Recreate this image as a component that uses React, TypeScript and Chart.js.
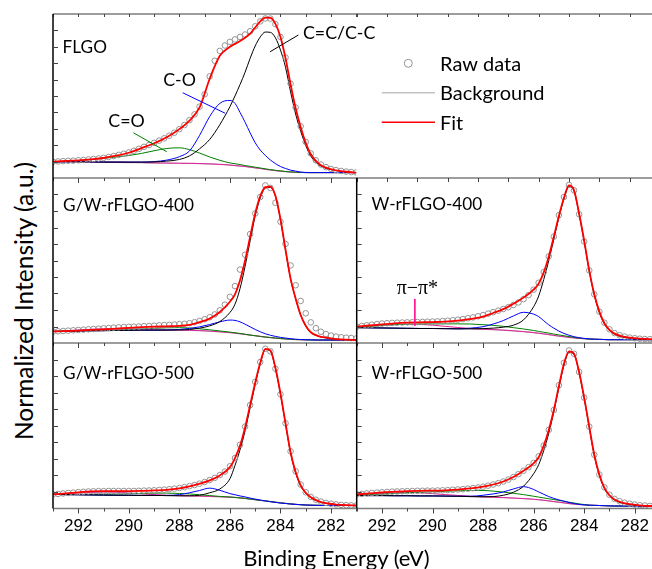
import React, { useEffect, useRef } from 'react';
import { Chart, registerables } from 'chart.js';

Chart.register(...registerables);

// ---------------- data ----------------
const energyRaw = [293.0, 292.8, 292.6, 292.4, 292.2, 292.0, 291.8, 291.6, 291.4, 291.2, 291.0, 290.8, 290.6, 290.4, 290.2, 290.0, 289.8, 289.6, 289.4, 289.2, 289.0, 288.8, 288.6, 288.4, 288.2, 288.0, 287.8, 287.6, 287.4, 287.2, 287.0, 286.8, 286.6, 286.4, 286.2, 286.0, 285.8, 285.6, 285.4, 285.2, 285.0, 284.8, 284.6, 284.4, 284.2, 284.0, 283.8, 283.6, 283.4, 283.2, 283.0, 282.8, 282.6, 282.4, 282.2, 282.0, 281.8, 281.6, 281.4, 281.2, 281.0];
const energyFit = [293, 292.5, 292, 291.5, 291, 290.5, 290, 289.5, 289, 288.5, 288, 287.6, 287.2, 286.8, 286.4, 286, 285.8, 285.6, 285.4, 285.2, 285, 284.8, 284.6, 284.4, 284.2, 284, 283.8, 283.6, 283.4, 283.2, 283, 282.8, 282.5, 282.2, 281.8, 281.4, 281];

// FLGO
const flgoRaw = [9.9, 10.1, 10.3, 10.5, 10.6, 10.8, 11.0, 11.3, 11.6, 11.9, 12.3, 12.8, 13.4, 14.1, 14.8, 15.6, 16.6, 17.8, 19.0, 20.1, 21.4, 22.8, 24.2, 25.8, 27.6, 29.8, 32.3, 35.3, 38.8, 43.5, 51.0, 62.0, 71.5, 77.5, 80.8, 83.0, 84.5, 86.0, 87.5, 89.5, 92.5, 95.5, 97.3, 97.2, 93.8, 86.0, 73.5, 57.5, 43.0, 31.5, 22.0, 15.0, 10.8, 8.2, 6.6, 5.5, 4.8, 4.3, 3.9, 3.6, 3.4];
const flgoFit = [9.9, 10.4, 10.8, 11.4, 12.2, 13.6, 15.4, 18.2, 21.2, 24.9, 29.8, 35.0, 43.0, 60.5, 74.5, 80.0, 81.8, 83.5, 85.5, 88.0, 91.8, 95.5, 97.8, 97.6, 94.0, 86.0, 73.0, 57.0, 42.5, 31.0, 21.5, 14.5, 8.9, 6.3, 4.7, 3.8, 3.3];
const flgoBg = [9.9, 9.85, 9.8, 9.7, 9.6, 9.5, 9.4, 9.3, 9.2, 9.1, 9.0, 8.9, 8.8, 8.6, 8.3, 7.9, 7.6, 7.3, 7.0, 6.6, 6.2, 5.8, 5.3, 4.9, 4.5, 4.2, 3.9, 3.7, 3.5, 3.4, 3.3, 3.3, 3.3, 3.3, 3.3, 3.3, 3.3];
const flgoCC = [9.9, 9.9, 9.8, 9.8, 9.7, 9.7, 9.7, 9.7, 9.8, 10.3, 11.3, 13.5, 17.8, 23.5, 32.5, 43.5, 50.0, 57.0, 64.5, 73.0, 80.5, 86.0, 89.0, 88.8, 85.5, 78.0, 67.5, 52.5, 39.0, 28.5, 19.8, 13.3, 8.3, 5.9, 4.5, 3.7, 3.3];
const flgoCO = [9.9, 9.9, 9.9, 9.8, 9.7, 9.7, 9.7, 9.7, 10.0, 10.9, 13.0, 16.5, 26.0, 37.5, 45.5, 47.3, 45.5, 40.0, 34.0, 27.5, 21.5, 17.0, 13.8, 11.0, 8.8, 7.0, 5.8, 4.8, 4.2, 3.6, 3.4, 3.3, 3.3, 3.3, 3.3, 3.3, 3.3];
const flgoCdO = [9.9, 10.2, 10.6, 11.2, 12.0, 12.8, 13.7, 15.0, 16.6, 18.0, 18.4, 17.3, 15.2, 12.8, 10.8, 9.2, 8.7, 8.2, 7.6, 7.1, 6.6, 6.1, 5.6, 5.1, 4.7, 4.3, 4.0, 3.7, 3.5, 3.4, 3.3, 3.3, 3.3, 3.3, 3.3, 3.3, 3.3];
const flgoPi = [9.9, 9.9, 9.9, 9.8, 9.7, 9.6, 9.5, 9.4, 9.2, 9.1, 9.0, 8.9, 8.8, 8.6, 8.3, 7.9, 7.6, 7.3, 7.0, 6.6, 6.2, 5.8, 5.3, 4.9, 4.5, 4.2, 3.9, 3.7, 3.5, 3.4, 3.3, 3.3, 3.3, 3.3, 3.3, 3.3, 3.3];

// G/W-rFLGO-400
const gw400Raw = [6.9, 7.1, 7.3, 7.5, 7.7, 7.9, 8.1, 8.3, 8.5, 8.7, 8.9, 9.1, 9.3, 9.5, 9.7, 9.8, 9.9, 10.0, 10.2, 10.3, 10.5, 10.7, 10.9, 11.0, 11.2, 11.4, 11.6, 12.0, 12.6, 13.4, 14.4, 15.6, 17.3, 19.8, 23.2, 28.0, 34.5, 44.5, 53.5, 66.0, 78.5, 88.5, 95.5, 94.0, 85.0, 73.5, 60.0, 47.0, 35.0, 25.5, 18.0, 12.5, 9.0, 6.8, 5.4, 4.5, 3.9, 3.5, 3.2, 3.0, 2.8];
const gw400Fit = [7.0, 7.2, 7.5, 7.9, 8.3, 8.7, 9.2, 9.6, 9.9, 10.1, 10.4, 11.0, 12.6, 14.8, 18.8, 25.0, 29.5, 38.0, 50.0, 64.4, 78.5, 89.0, 94.5, 94.8, 89.2, 75.0, 56.5, 39.0, 27.0, 17.0, 10.5, 6.5, 4.2, 3.2, 2.4, 2.0, 1.8];
const gw400Bg = [7.0, 7.1, 7.3, 7.4, 7.5, 7.6, 7.7, 7.8, 7.8, 7.8, 7.8, 7.7, 7.5, 7.2, 6.8, 6.3, 6.0, 5.6, 5.2, 4.8, 4.4, 4.0, 3.6, 3.3, 3.0, 2.7, 2.5, 2.3, 2.1, 2.0, 1.9, 1.9, 1.8, 1.8, 1.8, 1.8, 1.8];
const gw400CC = [7.0, 7.1, 7.3, 7.4, 7.5, 7.6, 7.7, 7.8, 7.8, 7.8, 7.9, 8.2, 9.0, 10.4, 13.0, 18.5, 23.5, 33.0, 46.5, 62.0, 77.0, 88.0, 93.8, 94.3, 89.0, 74.8, 56.3, 38.8, 26.8, 16.8, 10.3, 6.4, 4.1, 3.1, 2.3, 1.9, 1.8];
const gw400CO = [7.0, 7.1, 7.3, 7.4, 7.5, 7.6, 7.7, 7.8, 7.8, 7.9, 8.2, 8.8, 9.8, 11.2, 12.8, 13.9, 13.7, 12.8, 11.4, 9.8, 8.2, 6.8, 5.6, 4.7, 4.0, 3.4, 3.0, 2.6, 2.3, 2.1, 2.0, 1.9, 1.8, 1.8, 1.8, 1.8, 1.8];
const gw400CdO = [7.0, 7.1, 7.3, 7.5, 7.7, 7.9, 8.2, 8.5, 8.9, 9.2, 9.3, 9.1, 8.6, 8.0, 7.3, 6.6, 6.2, 5.8, 5.3, 4.8, 4.4, 4.0, 3.6, 3.3, 3.0, 2.7, 2.5, 2.3, 2.1, 2.0, 1.9, 1.9, 1.8, 1.8, 1.8, 1.8, 1.8];
const gw400Pi = [7.0, 7.4, 7.9, 8.3, 8.6, 8.7, 8.6, 8.3, 8.0, 7.9, 7.8, 7.7, 7.5, 7.2, 6.8, 6.3, 6.0, 5.6, 5.2, 4.8, 4.4, 4.0, 3.6, 3.3, 3.0, 2.7, 2.5, 2.3, 2.1, 2.0, 1.9, 1.9, 1.8, 1.8, 1.8, 1.8, 1.8];

// W-rFLGO-400
const w400Raw = [9.9, 10.3, 10.7, 11.1, 11.5, 11.8, 12.0, 12.2, 12.3, 12.4, 12.5, 12.6, 12.7, 12.8, 12.9, 13.0, 13.1, 13.3, 13.5, 13.8, 14.1, 14.5, 15.0, 15.5, 16.2, 16.9, 17.8, 18.7, 19.6, 20.6, 21.7, 23.0, 24.6, 26.6, 29.0, 32.3, 36.5, 43.0, 52.5, 64.5, 77.5, 88.5, 95.8, 92.5, 78.0, 61.5, 44.0, 29.5, 19.0, 12.3, 8.3, 6.0, 4.7, 3.9, 3.3, 2.9, 2.6, 2.4, 2.3, 2.2, 2.2];
const w400Fit = [9.9, 10.6, 11.3, 11.9, 12.3, 12.5, 12.7, 13.0, 13.6, 14.6, 16.0, 18.2, 20.5, 23.8, 27.5, 32.3, 36.0, 42.8, 52.5, 64.5, 77.0, 88.0, 95.5, 92.5, 78.5, 62.0, 44.0, 29.5, 19.0, 12.0, 8.0, 5.7, 4.0, 3.2, 2.6, 2.3, 2.2];
const w400Bg = [9.3, 9.2, 9.1, 9.0, 8.9, 8.8, 8.8, 8.7, 8.6, 8.5, 8.3, 8.1, 7.8, 7.4, 6.9, 6.3, 5.9, 5.5, 5.1, 4.6, 4.2, 3.8, 3.4, 3.1, 2.8, 2.6, 2.4, 2.3, 2.2, 2.1, 2.0, 2.0, 2.0, 2.0, 2.0, 2.0, 2.0];
const w400CC = [9.3, 9.2, 9.1, 9.0, 8.9, 8.8, 8.8, 8.7, 8.6, 8.6, 8.7, 9.0, 9.6, 10.8, 14.0, 22.0, 28.5, 38.5, 50.0, 63.0, 76.0, 87.3, 94.8, 92.0, 78.0, 61.5, 43.6, 29.0, 18.5, 11.6, 7.6, 5.3, 3.7, 2.9, 2.4, 2.1, 2.0];
const w400CO = [9.3, 9.2, 9.1, 9.0, 8.9, 8.8, 8.8, 8.7, 8.6, 9.0, 9.9, 11.5, 13.6, 16.4, 18.6, 17.5, 16.0, 13.5, 11.0, 9.0, 7.2, 5.8, 4.7, 3.8, 3.2, 2.8, 2.5, 2.3, 2.2, 2.1, 2.0, 2.0, 2.0, 2.0, 2.0, 2.0, 2.0];
const w400CdO = [9.4, 10.0, 10.6, 11.1, 11.4, 11.5, 11.6, 11.6, 11.6, 11.5, 11.1, 10.7, 10.1, 9.3, 8.5, 7.6, 7.0, 6.5, 6.0, 5.4, 4.9, 4.4, 3.9, 3.4, 3.0, 2.7, 2.4, 2.3, 2.2, 2.1, 2.0, 2.0, 2.0, 2.0, 2.0, 2.0, 2.0];
const w400Pi = [9.4, 10.1, 10.8, 11.2, 11.4, 11.3, 10.8, 10.1, 9.4, 8.8, 8.4, 8.1, 7.8, 7.4, 6.9, 6.3, 5.9, 5.5, 5.1, 4.6, 4.2, 3.8, 3.4, 3.1, 2.8, 2.6, 2.4, 2.3, 2.2, 2.1, 2.0, 2.0, 2.0, 2.0, 2.0, 2.0, 2.0];

// G/W-rFLGO-500
const gw500Raw = [8.5, 8.8, 9.1, 9.4, 9.6, 9.9, 10.1, 10.3, 10.4, 10.5, 10.5, 10.6, 10.6, 10.6, 10.6, 10.6, 10.6, 10.7, 10.8, 10.9, 11.0, 11.2, 11.4, 11.7, 12.0, 12.4, 12.9, 13.5, 14.2, 15.0, 16.0, 17.2, 18.5, 20.2, 22.3, 25.5, 30.5, 38.5, 49.5, 62.5, 76.5, 88.5, 96.5, 95.0, 84.5, 69.0, 51.5, 34.5, 22.5, 14.5, 9.8, 7.0, 5.3, 4.2, 3.4, 2.9, 2.5, 2.2, 2.0, 1.9, 1.8];
const gw500Fit = [8.5, 9.2, 9.8, 10.3, 10.5, 10.5, 10.5, 10.6, 10.9, 11.3, 12.2, 13.4, 15.0, 17.0, 20.0, 25.0, 30.5, 38.0, 49.0, 62.5, 76.0, 88.0, 96.5, 95.5, 85.0, 69.5, 51.5, 34.0, 22.0, 14.0, 9.5, 6.8, 4.5, 3.2, 2.4, 2.0, 1.8];
const gw500Bg = [8.5, 8.4, 8.3, 8.2, 8.1, 8.0, 8.0, 7.9, 7.9, 7.8, 7.7, 7.6, 7.5, 7.3, 7.1, 6.9, 6.7, 6.4, 6.1, 5.7, 5.3, 4.9, 4.6, 4.2, 3.8, 3.4, 3.1, 2.8, 2.5, 2.3, 2.1, 2.0, 1.9, 1.8, 1.8, 1.8, 1.8];
const gw500CC = [8.5, 8.4, 8.3, 8.2, 8.1, 8.0, 8.0, 7.9, 7.9, 7.8, 7.7, 7.7, 8.0, 9.5, 11.8, 18.0, 26.0, 35.5, 47.0, 61.0, 75.0, 87.5, 96.0, 95.0, 84.5, 69.0, 51.0, 33.5, 21.5, 13.6, 9.2, 6.5, 4.3, 3.1, 2.3, 1.9, 1.8];
const gw500CO = [8.5, 8.4, 8.3, 8.2, 8.1, 8.0, 8.0, 7.9, 7.9, 7.9, 8.4, 9.5, 10.9, 12.3, 11.0, 9.0, 8.3, 7.6, 7.0, 6.3, 5.7, 5.1, 4.6, 4.1, 3.7, 3.3, 3.0, 2.7, 2.5, 2.3, 2.1, 2.0, 1.9, 1.8, 1.8, 1.8, 1.8];
const gw500CdO = [8.5, 8.5, 8.5, 8.5, 8.6, 8.7, 8.9, 9.1, 9.3, 9.3, 9.1, 8.8, 8.3, 7.8, 7.3, 6.9, 6.7, 6.4, 6.1, 5.7, 5.3, 4.9, 4.6, 4.2, 3.8, 3.4, 3.1, 2.8, 2.5, 2.3, 2.1, 2.0, 1.9, 1.8, 1.8, 1.8, 1.8];
const gw500Pi = [8.6, 9.0, 9.4, 9.7, 9.9, 9.8, 9.4, 8.9, 8.4, 8.0, 7.7, 7.6, 7.5, 7.3, 7.1, 6.9, 6.7, 6.4, 6.1, 5.7, 5.3, 4.9, 4.6, 4.2, 3.8, 3.4, 3.1, 2.8, 2.5, 2.3, 2.1, 2.0, 1.9, 1.8, 1.8, 1.8, 1.8];

// W-rFLGO-500
const w500Raw = [8.5, 8.8, 9.1, 9.4, 9.6, 9.8, 10.0, 10.2, 10.3, 10.4, 10.5, 10.6, 10.7, 10.7, 10.8, 10.8, 10.9, 11.0, 11.1, 11.3, 11.5, 11.7, 12.0, 12.3, 12.7, 13.2, 13.8, 14.5, 15.3, 16.3, 17.5, 19.0, 20.8, 22.8, 25.0, 27.5, 31.5, 38.0, 47.5, 59.5, 74.5, 88.0, 95.5, 93.5, 82.5, 67.0, 49.5, 32.5, 20.5, 12.8, 8.3, 5.8, 4.4, 3.5, 2.9, 2.4, 2.0, 1.8, 1.6, 1.5, 1.4];
const w500Fit = [8.5, 9.1, 9.7, 10.2, 10.5, 10.7, 10.8, 11.0, 11.4, 12.1, 13.2, 14.5, 16.3, 19.0, 22.8, 27.3, 31.0, 38.0, 47.5, 59.5, 74.0, 87.5, 95.0, 93.5, 82.5, 67.0, 49.5, 32.5, 20.5, 12.5, 8.0, 5.5, 3.6, 2.6, 1.9, 1.5, 1.4];
const w500Bg = [7.9, 7.8, 7.8, 7.7, 7.7, 7.6, 7.6, 7.5, 7.4, 7.2, 7.0, 6.8, 6.6, 6.3, 6.0, 5.6, 5.3, 5.0, 4.6, 4.2, 3.8, 3.4, 3.0, 2.7, 2.4, 2.2, 2.0, 1.9, 1.8, 1.7, 1.6, 1.5, 1.5, 1.4, 1.4, 1.4, 1.4];
const w500CC = [7.9, 7.8, 7.8, 7.7, 7.7, 7.6, 7.6, 7.5, 7.4, 7.2, 7.1, 7.2, 8.0, 9.8, 13.5, 21.0, 26.5, 35.0, 45.5, 58.5, 73.0, 86.5, 94.3, 93.0, 82.0, 66.5, 49.0, 32.0, 20.0, 12.1, 7.7, 5.1, 3.3, 2.4, 1.8, 1.5, 1.4];
const w500CO = [7.9, 7.8, 7.8, 7.7, 7.7, 7.6, 7.6, 7.5, 7.4, 7.4, 8.0, 8.8, 10.0, 11.8, 13.2, 11.5, 10.0, 8.6, 7.2, 6.1, 5.2, 4.4, 3.6, 3.0, 2.5, 2.2, 2.0, 1.9, 1.8, 1.7, 1.6, 1.5, 1.5, 1.4, 1.4, 1.4, 1.4];
const w500CdO = [8.0, 8.3, 8.7, 9.1, 9.5, 9.8, 10.1, 10.4, 10.7, 10.9, 10.9, 10.5, 9.9, 9.2, 8.4, 7.4, 6.9, 6.4, 5.9, 5.4, 4.9, 4.4, 3.8, 3.3, 2.8, 2.4, 2.0, 1.9, 1.8, 1.7, 1.6, 1.5, 1.5, 1.4, 1.4, 1.4, 1.4];
const w500Pi = [8.0, 8.6, 9.1, 9.5, 9.7, 9.5, 9.0, 8.4, 7.9, 7.4, 7.0, 6.8, 6.6, 6.3, 6.0, 5.6, 5.3, 5.0, 4.6, 4.2, 3.8, 3.4, 3.0, 2.7, 2.4, 2.2, 2.0, 1.9, 1.8, 1.7, 1.6, 1.5, 1.5, 1.4, 1.4, 1.4, 1.4];

// ticks / labels
const xMajorTicks = [292, 290, 288, 286, 284, 282];
const xMinorTicks = [293, 291, 289, 287, 285, 283, 281];
const yTickValues = [10, 20, 30, 40, 50, 60, 70, 80, 90];
const legendPanelTicks = [0, 1, 2, 3, 4, 5, 6, 7, 8, 9, 10];
const legendLabels = ['Raw data', 'Background', 'Fit'];
const yAxisTitle = 'Normalized Intensity (a.u.)';
const xAxisTitle = 'Binding Energy (eV)';

// annotation anchors in data coordinates (energy, % of panel height)
const flgoNotes = [
  { text: 'FLGO', x: 292.62, y: 76.0, big: false },
  { text: 'C=C/C-C', x: 283.11, y: 84.6, big: true },
  { text: 'C-O', x: 288.64, y: 56.1, big: true },
  { text: 'C=O', x: 290.81, y: 30.9, big: true },
];
const flgoPointerCC = [{ x: 284.41, y: 77.0 }, { x: 283.29, y: 87.2 }];
const flgoPointerCO = [{ x: 287.87, y: 52.0 }, { x: 286.19, y: 39.5 }];
const flgoPointerCdO = [{ x: 289.82, y: 27.6 }, { x: 288.5, y: 16.0 }];
const w400PointerPi = [{ x: 290.7, y: 26.7 }, { x: 290.7, y: 10.3 }];

// ---------------- styling ----------------
const LABEL_FAMILY = 'Lato, "Open Sans", sans-serif';
const TICK_FAMILY = '"Liberation Sans", Arial, sans-serif';
const FRAME_GRAY = '#7d7d7d';
const TICK_GRAY = '#444444';
const RAW_GRAY = '#949494';
const BG_GRAY = '#b5b5b5';
const PI_COLOR = '#ff1493';

const COL_X = [53, 356.7];
const COL_W = 303.3;
const ROW_Y = [14, 178, 343];
const ROW_H = [164, 165, 165.5];

function pairs(xs: number[], ys: number[]) {
  return xs.map((x, i) => ({ x, y: ys[i] }));
}

function lineSet(ys: number[], color: string, width: number) {
  return {
    data: pairs(energyFit, ys),
    borderColor: color,
    backgroundColor: color,
    borderWidth: width,
    pointRadius: 0,
    fill: false,
    cubicInterpolationMode: 'monotone',
  };
}

const PANELS: any[] = [
  {
    col: 0, row: 0,
    s: { raw: flgoRaw, fit: flgoFit, bg: flgoBg, cc: flgoCC, co: flgoCO, cdo: flgoCdO, pi: flgoPi },
    notes: flgoNotes,
    pointers: [
      { points: flgoPointerCC, color: '#000000' },
      { points: flgoPointerCO, color: '#0000ff' },
      { points: flgoPointerCdO, color: '#008000' },
    ],
  },
  { col: 1, row: 0, legend: true },
  {
    col: 0, row: 1,
    s: { raw: gw400Raw, fit: gw400Fit, bg: gw400Bg, cc: gw400CC, co: gw400CO, cdo: gw400CdO, pi: gw400Pi },
    notes: [{ text: 'G/W-rFLGO-400', x: 292.6, y: 80.2, big: false }],
  },
  {
    col: 1, row: 1,
    s: { raw: w400Raw, fit: w400Fit, bg: w400Bg, cc: w400CC, co: w400CO, cdo: w400CdO, pi: w400Pi },
    notes: [
      { text: 'W-rFLGO-400', x: 292.41, y: 80.6, big: false },
      { text: 'π−π*', x: 291.42, y: 29.7, serif: true },
    ],
    pointers: [{ points: w400PointerPi, color: PI_COLOR }],
  },
  {
    col: 0, row: 2,
    s: { raw: gw500Raw, fit: gw500Fit, bg: gw500Bg, cc: gw500CC, co: gw500CO, cdo: gw500CdO, pi: gw500Pi },
    notes: [{ text: 'G/W-rFLGO-500', x: 292.6, y: 78.2, big: false }],
  },
  {
    col: 1, row: 2,
    s: { raw: w500Raw, fit: w500Fit, bg: w500Bg, cc: w500CC, co: w500CO, cdo: w500CdO, pi: w500Pi },
    notes: [{ text: 'W-rFLGO-500', x: 292.41, y: 78.2, big: false }],
  },
];

function geometry(p: any) {
  const left = p.col === 0 ? 41 : 344;
  const width = p.col === 0 ? 350 : 330;
  const top = ROW_Y[p.row] - 12;
  const padLeft = COL_X[p.col] - left;
  const padRight = width - padLeft - COL_W;
  const bottomRow = p.row === 2;
  const height = bottomRow ? 235 : Math.round(12 + ROW_H[p.row] + 14);
  const padBottom = bottomRow ? height - 12 - ROW_H[p.row] - 50 : height - 12 - ROW_H[p.row];
  return { left, top, width, height, padding: { left: padLeft, right: padRight, top: 12, bottom: padBottom } };
}

function makeDecor(p: any) {
  return {
    id: 'panelDecor',
    afterDatasetsDraw(chart: any) {
      const { ctx, chartArea: a, scales } = chart;
      const xs = scales.x;
      const ys = scales.y;
      const seg = (x1: number, y1: number, x2: number, y2: number) => {
        ctx.beginPath();
        ctx.moveTo(x1, y1);
        ctx.lineTo(x2, y2);
        ctx.stroke();
      };
      ctx.save();
      // horizontal frame lines
      ctx.strokeStyle = FRAME_GRAY;
      ctx.lineWidth = 1.6;
      seg(a.left, a.bottom, a.right + 2, a.bottom);
      if (p.row === 0) seg(a.left, a.top, a.right + 2, a.top);
      // x ticks
      ctx.strokeStyle = TICK_GRAY;
      ctx.lineWidth = 1;
      const ticks: number[][] = p.legend
        ? legendPanelTicks.map((v) => [v, 4])
        : [...xMajorTicks.map((v) => [v, 5]), ...xMinorTicks.map((v) => [v, 3])];
      ticks.forEach(([v, len]) => {
        const px = Math.round(xs.getPixelForValue(v)) + 0.5;
        seg(px, a.bottom, px, a.bottom + len);
        if (p.row === 0) seg(px, a.top, px, a.top + 3);
      });
      // left spine + y ticks
      if (!p.legend) {
        ctx.strokeStyle = '#000000';
        ctx.lineWidth = 1.5;
        seg(a.left, a.top, a.left, a.bottom);
        ctx.lineWidth = 1;
        ctx.strokeStyle = TICK_GRAY;
        yTickValues.forEach((v) => {
          const py = Math.round(ys.getPixelForValue(v)) + 0.5;
          seg(a.left, py, a.left + 5, py);
        });
      }
      // text annotations
      ctx.fillStyle = '#000000';
      ctx.textAlign = 'left';
      ctx.textBaseline = 'alphabetic';
      (p.notes || []).forEach((n: any) => {
        ctx.font = n.serif
          ? '20px "Liberation Serif", "DejaVu Serif", serif'
          : `${n.big ? 17.8 : 17.2}px ${LABEL_FAMILY}`;
        ctx.fillText(n.text, xs.getPixelForValue(n.x), ys.getPixelForValue(n.y));
      });
      // legend
      if (p.legend) {
        const rowsY = [49.3, 78.7, 108.3];
        const lx = a.left;
        ctx.strokeStyle = RAW_GRAY;
        ctx.lineWidth = 1;
        ctx.beginPath();
        ctx.arc(lx + 51.6, a.top + rowsY[0], 4, 0, Math.PI * 2);
        ctx.stroke();
        ctx.strokeStyle = '#c4c4c4';
        ctx.lineWidth = 1.6;
        seg(lx + 25, a.top + rowsY[1], lx + 78.3, a.top + rowsY[1]);
        ctx.strokeStyle = '#ff0000';
        seg(lx + 25, a.top + rowsY[2], lx + 78.3, a.top + rowsY[2]);
        ctx.font = `20px ${LABEL_FAMILY}`;
        legendLabels.forEach((t, i) => {
          ctx.fillText(t, lx + 83.3, a.top + rowsY[i] + 7.4);
        });
      }
      ctx.restore();
    },
  };
}

function buildConfig(p: any, g: any) {
  const datasets: any[] = [];
  (p.pointers || []).forEach((pt: any) =>
    datasets.push({ data: pt.points, borderColor: pt.color, borderWidth: 1, pointRadius: 0, tension: 0, fill: false })
  );
  if (p.s) {
    datasets.push(lineSet(p.s.fit, '#ff0000', 1.8));
    datasets.push({
      data: pairs(energyRaw, p.s.raw),
      showLine: false,
      pointRadius: 2.8,
      pointBorderWidth: 1,
      pointBorderColor: RAW_GRAY,
      pointBackgroundColor: 'rgba(255,255,255,0)',
      borderColor: RAW_GRAY,
    });
    datasets.push(lineSet(p.s.cc, '#000000', 1));
    datasets.push(lineSet(p.s.co, '#0000ff', 1));
    datasets.push(lineSet(p.s.cdo, '#008000', 1));
    datasets.push(lineSet(p.s.pi, '#e0209a', 1));
    datasets.push(lineSet(p.s.bg, BG_GRAY, 1.2));
  }
  const bottomRow = p.row === 2;
  const xScale: any = p.legend
    ? { type: 'linear', min: 0, max: 10, display: false }
    : {
        type: 'linear',
        reverse: true,
        min: 281,
        max: 293,
        display: bottomRow,
        grid: { display: false, drawTicks: false },
        border: { display: false },
        ticks: {
          stepSize: 1,
          autoSkip: false,
          maxRotation: 0,
          minRotation: 0,
          padding: 8,
          color: '#000000',
          font: { family: TICK_FAMILY, size: 17 },
          callback: (v: number) => (v % 2 === 0 ? String(v) : ''),
        },
      };
  if (bottomRow) {
    xScale.afterFit = (s: any) => {
      s.height = 50;
    };
  }
  return {
    type: 'line',
    data: { datasets },
    options: {
      responsive: false,
      animation: false,
      devicePixelRatio: 1,
      events: [],
      layout: { padding: g.padding },
      plugins: { legend: { display: false }, tooltip: { enabled: false } },
      scales: {
        x: xScale,
        y: { type: 'linear', min: 0, max: 100, display: false },
      },
    },
    plugins: [makeDecor(p)],
  };
}

export default function App() {
  const refs = useRef<(HTMLCanvasElement | null)[]>([]);
  const geoms = PANELS.map((p) => geometry(p));

  useEffect(() => {
    const charts = PANELS.map((p, i) => new Chart(refs.current[i] as HTMLCanvasElement, buildConfig(p, geoms[i]) as any));
    return () => charts.forEach((c) => c.destroy());
  }, []);

  return (
    <div
      style={{
        position: 'fixed',
        left: 0,
        top: 0,
        width: 652,
        height: 569,
        overflow: 'hidden',
        background: '#ffffff',
      }}
    >
      {PANELS.map((p, i) => (
        <canvas
          key={i}
          ref={(el) => {
            refs.current[i] = el;
          }}
          width={geoms[i].width}
          height={geoms[i].height}
          style={{ position: 'absolute', left: geoms[i].left, top: geoms[i].top, display: 'block' }}
        />
      ))}
      <div
        style={{
          position: 'absolute',
          left: 23.5,
          top: 301,
          transform: 'translate(-50%, -50%) rotate(-90deg)',
          font: `24.5px ${LABEL_FAMILY}`,
          lineHeight: 1,
          whiteSpace: 'nowrap',
          color: '#000',
        }}
      >
        {yAxisTitle}
      </div>
      <div
        style={{
          position: 'absolute',
          left: 336.5,
          top: 558,
          transform: 'translate(-50%, -50%)',
          font: `22px ${LABEL_FAMILY}`,
          lineHeight: 1,
          whiteSpace: 'nowrap',
          color: '#000',
        }}
      >
        {xAxisTitle}
      </div>
    </div>
  );
}
